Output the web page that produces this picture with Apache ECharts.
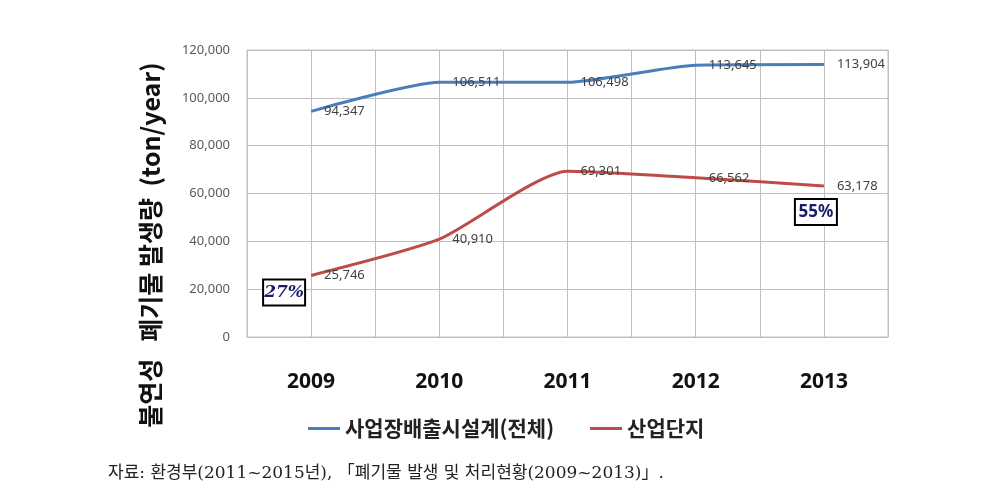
<!DOCTYPE html>
<html>
<head>
<meta charset="utf-8">
<script src="https://cdn.jsdelivr.net/npm/echarts@6/dist/echarts.min.js"></script>
<style>
  html, body { margin: 0; padding: 0; background: #fff; }
  #main { width: 990px; height: 503px; }
</style>
</head>
<body>
<div id="main"></div>
<script>
// 연도 / 시리즈 값
const years = ['2009', '2010', '2011', '2012', '2013'];
const totalSites = [94347, 106511, 106498, 113645, 113904];   // 사업장배출시설계(전체)
const industrial = [25746, 40910, 69301, 66562, 63178];       // 산업단지
const yTicks = [0, 20000, 40000, 60000, 80000, 100000, 120000];
const shareNotes = ['27%', '55%'];   // 산업단지 비중 (2009, 2013)

const BLUE = '#4A7EBB';
const RED = '#BE4B48';
const FONT_KR = '"Noto Sans CJK KR", "Noto Sans", sans-serif';

const chart = echarts.init(document.getElementById('main'));

const fmt = v => Number(v).toLocaleString('en-US');

const dataLabel = {
  show: true,
  position: 'right',
  distance: 13,
  color: '#404040',
  fontSize: 13,
  fontFamily: '"Noto Sans", sans-serif',
  formatter: p => fmt(p.value)
};

const noteLabel = (offset, italic) => ({
  show: true,
  position: 'inside',
  offset: offset,
  formatter: p => p.name,
  width: 40,
  height: 24,
  lineHeight: 24,
  align: 'center',
  verticalAlign: 'middle',
  backgroundColor: '#fff',
  borderColor: '#000',
  borderWidth: 2,
  color: '#1c1c6b',
  fontSize: 17,
  fontWeight: 'bold',
  fontStyle: italic ? 'italic' : 'normal',
  fontFamily: italic ? '"DejaVu Serif", serif' : '"Noto Sans", sans-serif'
});

const option = {
  animation: false,
  backgroundColor: '#fff',
  grid: { left: 247, right: 102, top: 50, bottom: 166 },
  legend: {
    left: 303,
    top: 413,
    itemWidth: 32,
    itemHeight: 3,
    itemGap: 36,
    textStyle: { fontSize: 21, fontWeight: 'bold', color: '#222', fontFamily: FONT_KR },
    data: [
      { name: '사업장배출시설계(전체)', icon: 'rect' },
      { name: '산업단지', icon: 'rect' }
    ]
  },
  xAxis: [
    {
      type: 'category',
      data: years,
      boundaryGap: true,
      axisLine: { lineStyle: { color: '#BFBFBF' } },
      axisTick: { show: false },
      splitLine: { show: false },
      axisLabel: {
        margin: 35,
        fontSize: 21,
        fontWeight: 'bold',
        color: '#111',
        fontFamily: '"Noto Sans", sans-serif'
      }
    },
    {
      // 보조 격자 (카테고리 중앙선 포함)
      type: 'value',
      min: 0,
      max: years.length * 2,
      interval: 1,
      position: 'bottom',
      axisLine: { show: false },
      axisTick: { show: false },
      axisLabel: { show: false },
      splitLine: { show: true, lineStyle: { color: '#BFBFBF', width: 1 } }
    }
  ],
  yAxis: {
    type: 'value',
    min: yTicks[0],
    max: yTicks[yTicks.length - 1],
    interval: yTicks[1] - yTicks[0],
    axisLine: { show: true, lineStyle: { color: '#BFBFBF' } },
    axisTick: { show: false },
    splitLine: { lineStyle: { color: '#BFBFBF', width: 1 } },
    axisLabel: {
      margin: 17,
      fontSize: 13,
      color: '#595959',
      fontFamily: '"Noto Sans", sans-serif',
      formatter: v => fmt(v)
    }
  },
  graphic: [
    {
      type: 'rect',
      shape: { x: 247, y: 50, width: 641, height: 287 },
      style: { fill: 'none', stroke: '#BFBFBF', lineWidth: 1 },
      silent: true
    },
    {
      type: 'text',
      x: 150,
      y: 245,
      rotation: Math.PI / 2,
      style: {
        text: '불연성   폐기물 발생량  (ton/year)',
        fontSize: 25,
        fontWeight: 'bold',
        fill: '#111',
        fontFamily: FONT_KR,
        textAlign: 'center',
        textVerticalAlign: 'middle'
      }
    },
    {
      type: 'text',
      left: 108,
      top: 465,
      style: {
        text: '자료: 환경부(2011~2015년), 「폐기물 발생 및 처리현황(2009~2013)」.',
        fontSize: 17,
        fill: '#222',
        fontFamily: '"DejaVu Serif", "Noto Sans CJK KR", serif'
      }
    }
  ],
  series: [
    {
      name: '사업장배출시설계(전체)',
      type: 'line',
      data: totalSites,
      smooth: 0.2,
      symbol: 'circle',
      showSymbol: true,
      symbolSize: 0,
      color: BLUE,
      itemStyle: { color: BLUE },
      lineStyle: { color: BLUE, width: 3 },
      label: dataLabel
    },
    {
      name: '산업단지',
      type: 'line',
      data: industrial,
      smooth: 0.2,
      symbol: 'circle',
      showSymbol: true,
      symbolSize: 0,
      color: RED,
      itemStyle: { color: RED },
      lineStyle: { color: RED, width: 3 },
      label: dataLabel,
      markPoint: {
        symbol: 'circle',
        symbolSize: 0,
        silent: true,
        data: [
          { name: shareNotes[0], coord: [0, industrial[0]], label: noteLabel([-27, 17], true) },
          { name: shareNotes[1], coord: [4, industrial[4]], label: noteLabel([-8, 26], false) }
        ]
      }
    }
  ]
};

chart.setOption(option);
</script>
</body>
</html>
